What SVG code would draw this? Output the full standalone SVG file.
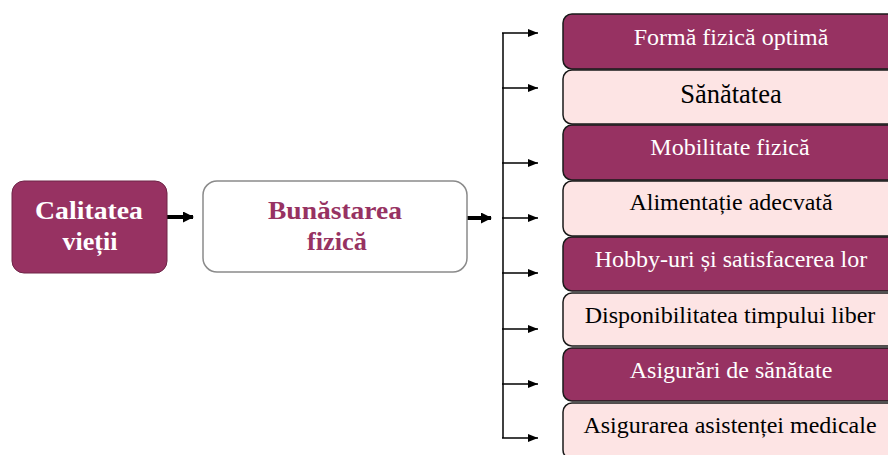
<svg xmlns="http://www.w3.org/2000/svg" width="888" height="455" viewBox="0 0 888 455">
<style>
.dark{fill:#973262;stroke:#1a1a1a;stroke-width:1.5}
.light{fill:#fde4e4;stroke:#1a1a1a;stroke-width:1.5}
.t{font-family:"Liberation Serif","Times New Roman",serif;font-size:24px;text-anchor:middle}
.tw{fill:#ffffff}
.tb{fill:#000000}
.big{font-family:"Liberation Serif","Times New Roman",serif;font-size:26px;font-weight:bold;text-anchor:middle}
.ln{stroke:#000;stroke-width:1.5;fill:none}
.thick{stroke:#000;stroke-width:4;fill:none}
</style>
<defs>
<marker id="ah" markerWidth="10" markerHeight="8" refX="10" refY="4" orient="auto" markerUnits="userSpaceOnUse">
<path d="M0,0 L10,4 L0,8 Z" fill="#000"/>
</marker>
<marker id="ahb" markerWidth="11" markerHeight="11" refX="10" refY="5.5" orient="auto" markerUnits="userSpaceOnUse">
<path d="M0,0 L11,5.5 L0,11 Z" fill="#000"/>
</marker>
</defs>
<rect width="888" height="455" fill="#ffffff"/>

<g id="connectors">
<line class="thick" x1="167" y1="217" x2="193" y2="217" marker-end="url(#ahb)"/>
<line class="thick" x1="467" y1="218" x2="491" y2="218" marker-end="url(#ahb)"/>
<line class="ln" x1="503" y1="33" x2="503" y2="438"/>
<line class="ln" x1="502" y1="33" x2="538" y2="33" marker-end="url(#ah)"/>
<line class="ln" x1="502" y1="88" x2="538" y2="88" marker-end="url(#ah)"/>
<line class="ln" x1="502" y1="163" x2="538" y2="163" marker-end="url(#ah)"/>
<line class="ln" x1="502" y1="218" x2="538" y2="218" marker-end="url(#ah)"/>
<line class="ln" x1="502" y1="273" x2="538" y2="273" marker-end="url(#ah)"/>
<line class="ln" x1="502" y1="329" x2="538" y2="329" marker-end="url(#ah)"/>
<line class="ln" x1="502" y1="384" x2="538" y2="384" marker-end="url(#ah)"/>
<line class="ln" x1="502" y1="438" x2="538" y2="438" marker-end="url(#ah)"/>
</g>

<g id="calitatea">
<rect x="12" y="181" width="155" height="92" rx="12" fill="#973262" stroke="#6e2447" stroke-width="1"/>
<text class="big" x="89" y="219" fill="#ffffff" textLength="108" lengthAdjust="spacingAndGlyphs">Calitatea</text>
<text class="big" x="90" y="250" fill="#ffffff" textLength="55" lengthAdjust="spacingAndGlyphs">vieții</text>
</g>

<g id="bunastarea">
<rect x="203" y="181" width="264" height="91" rx="14" fill="#ffffff" stroke="#8a8a8a" stroke-width="1.5"/>
<text class="big" x="335" y="219" fill="#973262" textLength="134" lengthAdjust="spacingAndGlyphs">Bunăstarea</text>
<text class="big" x="337" y="250" fill="#973262" textLength="60" lengthAdjust="spacingAndGlyphs">fizică</text>
</g>

<g id="n1">
<rect class="dark" x="563" y="14" width="336" height="55" rx="9"/>
<text class="t tw" x="731" y="45">Formă fizică optimă</text>
</g>
<g id="n2">
<rect class="light" x="563" y="70" width="336" height="54" rx="9"/>
<text class="t tb" x="731" y="103" style="font-size:26.5px">Sănătatea</text>
</g>
<g id="n3">
<rect class="dark" x="563" y="125" width="336" height="55" rx="9"/>
<text class="t tw" x="730" y="155">Mobilitate fizică</text>
</g>
<g id="n4">
<rect class="light" x="563" y="181" width="336" height="55" rx="9"/>
<text class="t tb" x="731" y="210">Alimentație adecvată</text>
</g>
<g id="n5">
<rect class="dark" x="563" y="237" width="336" height="54" rx="9"/>
<text class="t tw" x="731" y="267">Hobby-uri și satisfacerea lor</text>
</g>
<g id="n6">
<rect class="light" x="563" y="293" width="336" height="53" rx="9"/>
<text class="t tb" x="730" y="323">Disponibilitatea timpului liber</text>
</g>
<g id="n7">
<rect class="dark" x="563" y="348" width="336" height="53" rx="9"/>
<text class="t tw" x="731" y="378">Asigurări de sănătate</text>
</g>
<g id="n8">
<rect class="light" x="563" y="403" width="336" height="56" rx="9"/>
<text class="t tb" x="730" y="433">Asigurarea asistenței medicale</text>
</g>
</svg>
